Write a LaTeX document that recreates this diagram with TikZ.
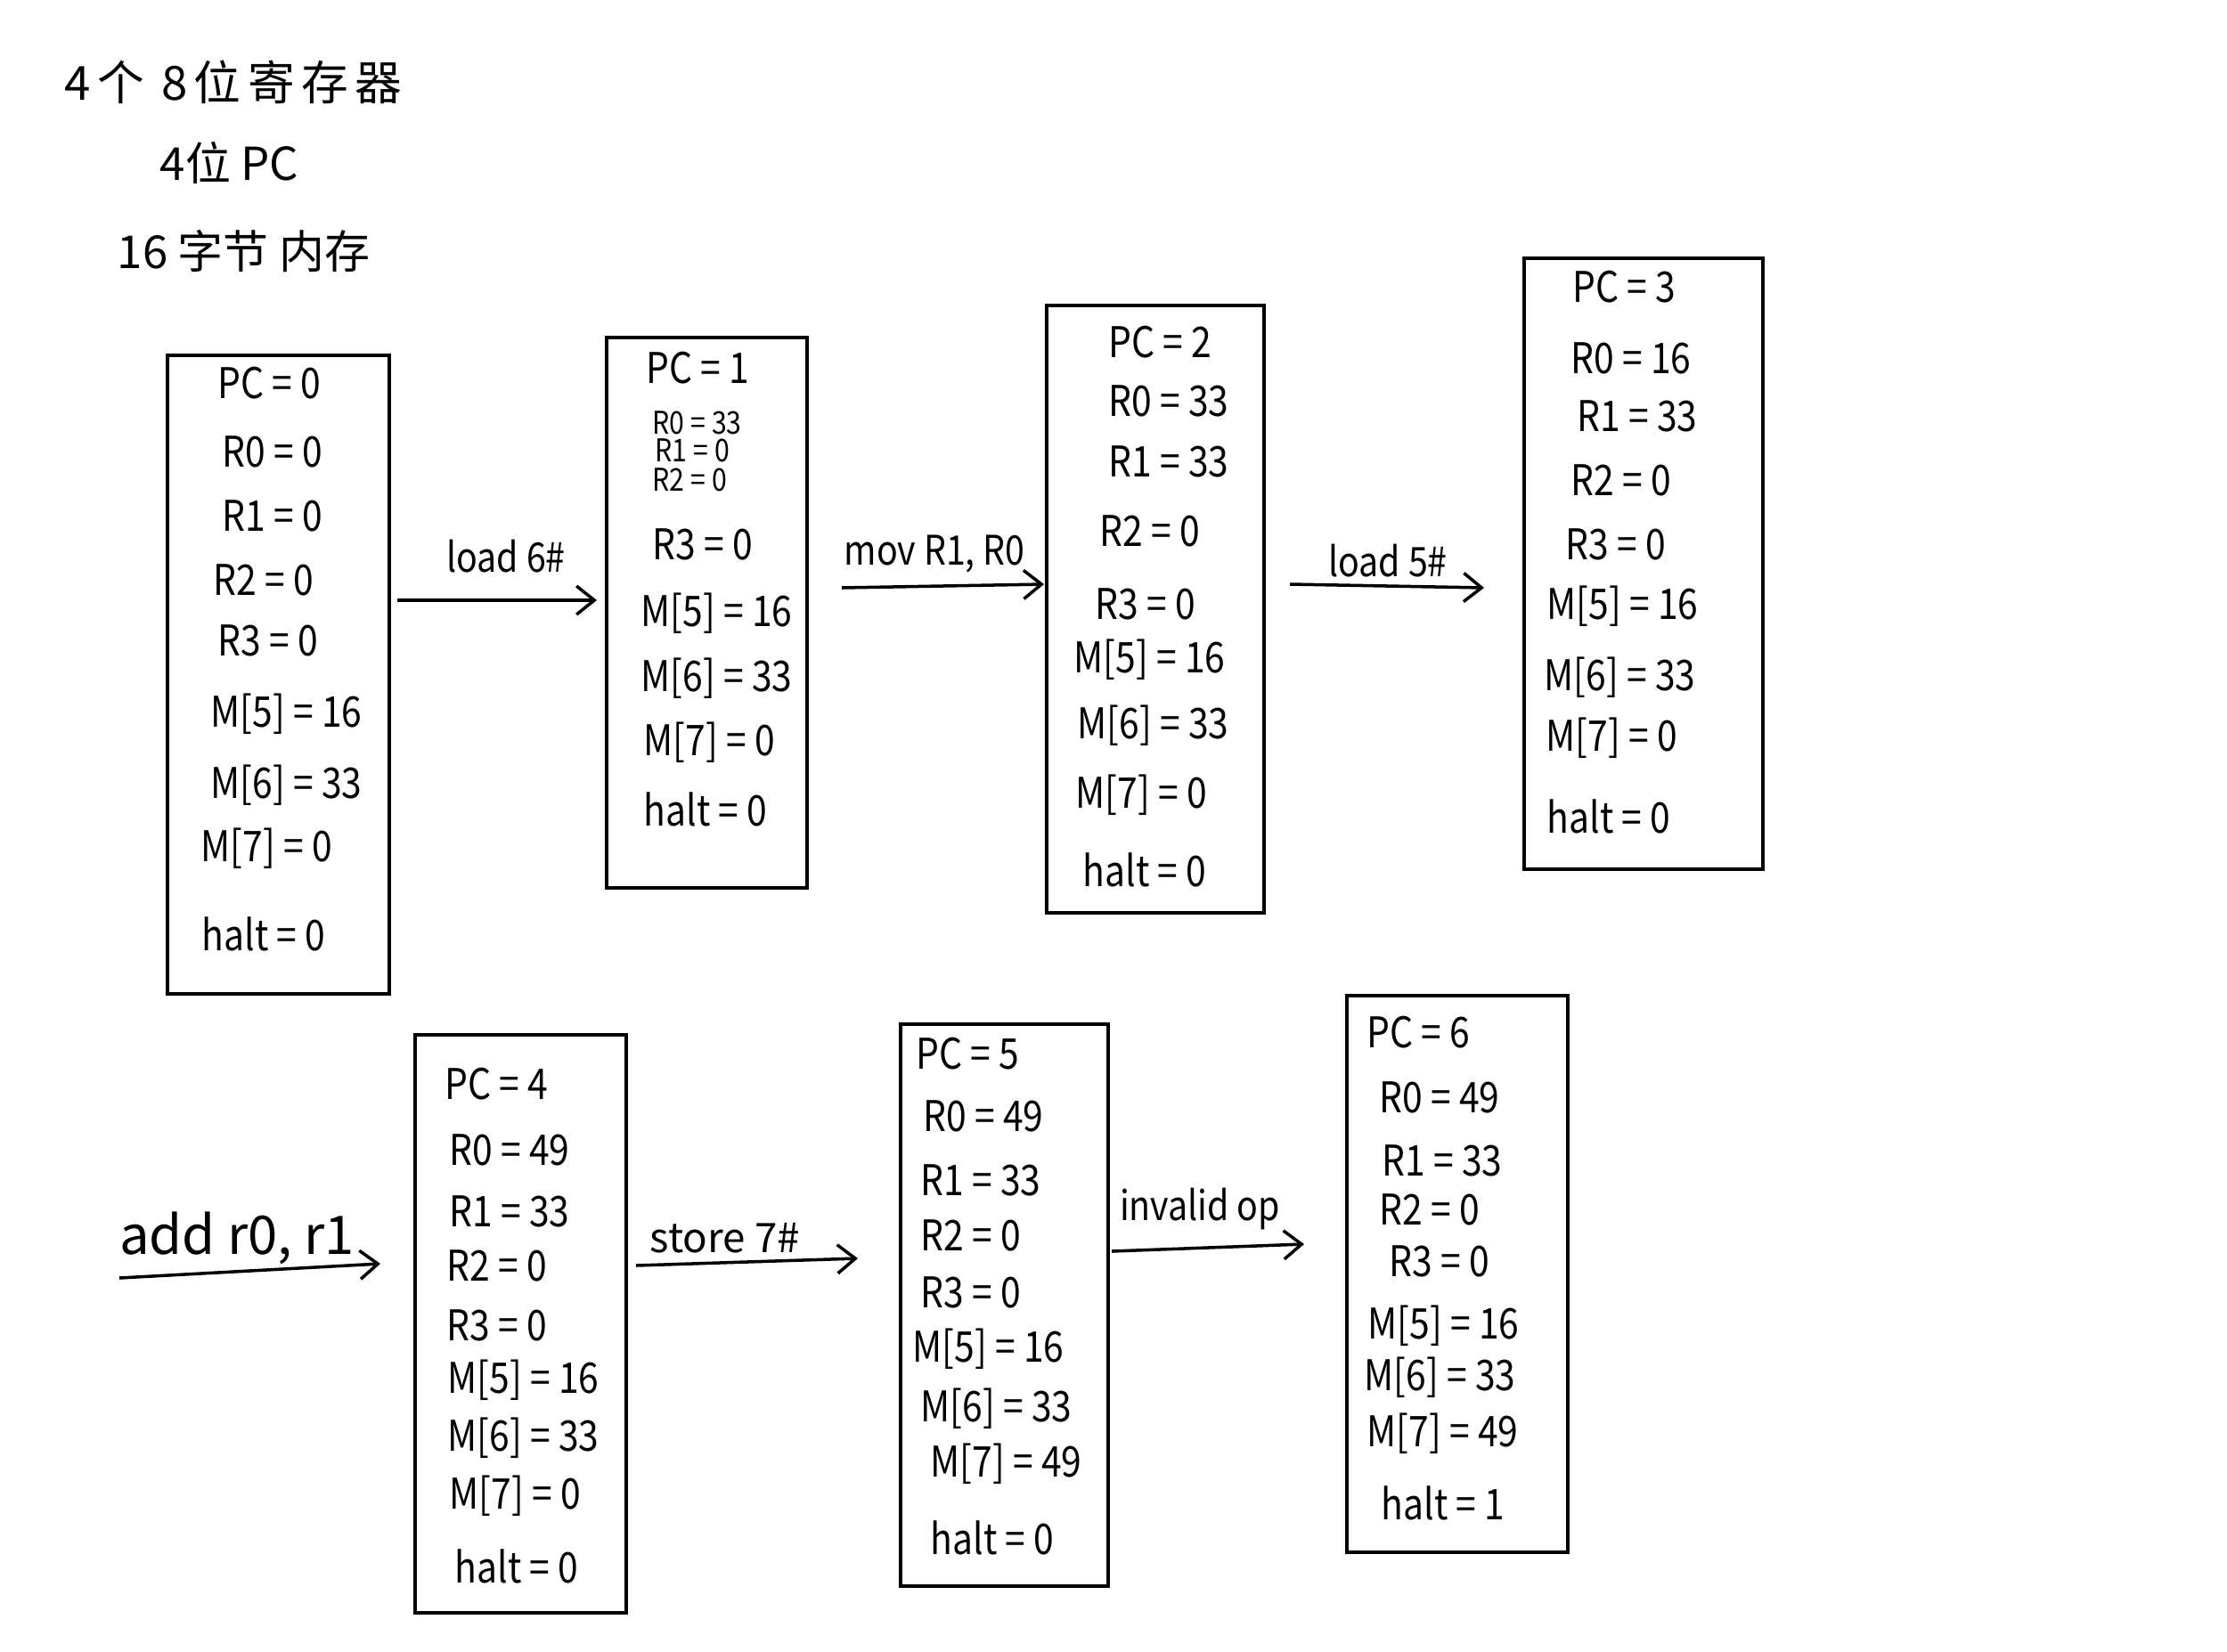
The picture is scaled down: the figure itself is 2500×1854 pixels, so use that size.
\documentclass[tikz,border=0pt]{standalone}
\usepackage{fontspec}
\setmainfont{Noto Sans CJK SC}
\newfontfamily\narrowfont{Noto Sans CJK SC}[FakeStretch=0.86]
\newfontfamily\spacedfont{Noto Sans CJK SC}[LetterSpace=14]
\usetikzlibrary{arrows.meta}
\tikzset{
  box/.style={draw, line width=1pt, inner sep=0pt},
  txt/.style={anchor=west, inner sep=0pt, font=\narrowfont\fontsize{13.5}{15}\selectfont},
  stxt/.style={anchor=west, inner sep=0pt, font=\narrowfont\fontsize{10}{11}\selectfont},
  hdr/.style={anchor=west, inner sep=0pt, font=\fontsize{14.5}{18}\selectfont},
  lbl/.style={inner sep=0pt, font=\narrowfont\fontsize{13}{15}\selectfont},
  arr/.style={line width=1pt, -{Straight Barb[length=2mm,width=3.2mm]}}
}
\begin{document}
\begin{tikzpicture}[x=0.01cm, y=-0.01cm]
\fill[white] (0,0) rectangle (2500,1854);
\useasboundingbox (0,0) rectangle (2500,1854);

% header
\node[hdr, font=\spacedfont\fontsize{15}{18}\selectfont] (h1) at (72,92) {4个 8位寄存器};
\node[hdr] (h2) at (179,183) {4位 PC};
\node[hdr] (h3) at (131,282) {16 字节 内存};

% boxes
\node[box, minimum width=2.49cm, minimum height=7.17cm] (b1) at (312.5,757.5) {};
\node[box, minimum width=2.25cm, minimum height=6.18cm] (b2) at (793.5,688) {};
\node[box, minimum width=2.44cm, minimum height=6.82cm] (b3) at (1297,684) {};
\node[box, minimum width=2.68cm, minimum height=6.86cm] (b4) at (1845,633) {};
\node[box, minimum width=2.37cm, minimum height=6.49cm] (b5) at (584.5,1486.5) {};
\node[box, minimum width=2.33cm, minimum height=6.31cm] (b6) at (1127.5,1465.5) {};
\node[box, minimum width=2.48cm, minimum height=6.25cm] (b7) at (1636,1430.5) {};

% box 1
\foreach \t/\x/\y [count=\i] in {
  {PC = 0}/244/430, {R0 = 0}/249/507, {R1 = 0}/249/579, {R2 = 0}/239/651,
  {R3 = 0}/244/719, {M[5] = 16}/236/802, {M[6] = 33}/236/882,
  {M[7] = 0}/225/953, {halt = 0}/226/1049}
  \node[txt] (t1-\i) at (\x,\y) {\t};

% box 2
\node[txt] (t2-1) at (725,413) {PC = 1};
\node[stxt] (t2-2) at (732,475) {R0 = 33};
\node[stxt] (t2-3) at (735,506) {R1 = 0};
\node[stxt] (t2-4) at (732,539) {R2 = 0};
\foreach \t/\x/\y [count=\i from 5] in {
  {R3 = 0}/732/611, {M[5] = 16}/719/689, {M[6] = 33}/719/762,
  {M[7] = 0}/722/834, {halt = 0}/722/909}
  \node[txt] (t2-\i) at (\x,\y) {\t};

% box 3
\foreach \t/\x/\y [count=\i] in {
  {PC = 2}/1244/384, {R0 = 33}/1244/450, {R1 = 33}/1244/518, {R2 = 0}/1234/596,
  {R3 = 0}/1229/678, {M[5] = 16}/1205/741, {M[6] = 33}/1209/815,
  {M[7] = 0}/1207/893, {halt = 0}/1215/977}
  \node[txt] (t3-\i) at (\x,\y) {\t};

% box 4
\foreach \t/\x/\y [count=\i] in {
  {PC = 3}/1765/322, {R0 = 16}/1763/402, {R1 = 33}/1770/467, {R2 = 0}/1763/539,
  {R3 = 0}/1757/611, {M[5] = 16}/1736/681, {M[6] = 33}/1733/761,
  {M[7] = 0}/1735/829, {halt = 0}/1736/917}
  \node[txt] (t4-\i) at (\x,\y) {\t};

% box 5
\foreach \t/\x/\y [count=\i] in {
  {PC = 4}/499/1217, {R0 = 49}/504/1291, {R1 = 33}/504/1360, {R2 = 0}/501/1421,
  {R3 = 0}/501/1488, {M[5] = 16}/502/1550, {M[6] = 33}/502/1615,
  {M[7] = 0}/504/1680, {halt = 0}/510/1759}
  \node[txt] (t5-\i) at (\x,\y) {\t};

% box 6
\foreach \t/\x/\y [count=\i] in {
  {PC = 5}/1028/1183, {R0 = 49}/1036/1253, {R1 = 33}/1033/1325, {R2 = 0}/1033/1387,
  {R3 = 0}/1033/1451, {M[5] = 16}/1024/1515, {M[6] = 33}/1033/1582,
  {M[7] = 49}/1044/1644, {halt = 0}/1044/1727}
  \node[txt] (t6-\i) at (\x,\y) {\t};

% box 7
\foreach \t/\x/\y [count=\i] in {
  {PC = 6}/1534/1159, {R0 = 49}/1548/1232, {R1 = 33}/1551/1303, {R2 = 0}/1548/1358,
  {R3 = 0}/1559/1416, {M[5] = 16}/1535/1489, {M[6] = 33}/1531/1547,
  {M[7] = 49}/1534/1610, {halt = 1}/1550/1688}
  \node[txt] (t7-\i) at (\x,\y) {\t};

% arrow endpoints
\coordinate (a1s) at (446,674);  \coordinate (a1e) at (670,674);
\coordinate (a2s) at (945,660);  \coordinate (a2e) at (1172,656);
\coordinate (a3s) at (1448,656); \coordinate (a3e) at (1666,660);
\coordinate (a4s) at (134,1435); \coordinate (a4e) at (427,1419);
\coordinate (a5s) at (714,1421); \coordinate (a5e) at (963,1413);
\coordinate (a6s) at (1248,1405); \coordinate (a6e) at (1464,1397);

\draw[arr] (a1s) -- (a1e);
\draw[arr] (a2s) -- (a2e);
\draw[arr] (a3s) -- (a3e);
\draw[arr] (a4s) -- (a4e);
\draw[arr] (a5s) -- (a5e);
\draw[arr] (a6s) -- (a6e);

% labels
\node[lbl] (l1) at (568,625) {load 6\#};
\node[lbl] (l2) at (1049,622) {mov R1, R0};
\node[lbl] (l3) at (1558,630) {load 5\#};
\node[lbl, font=\fontsize{17}{20}\selectfont] (l4) at (266,1390) {add r0, r1};
\node[lbl, font=\fontsize{13}{15}\selectfont] (l5) at (814,1390) {store 7\#};
\node[lbl] (l6) at (1347,1358) {invalid op};
\end{tikzpicture}
\end{document}
